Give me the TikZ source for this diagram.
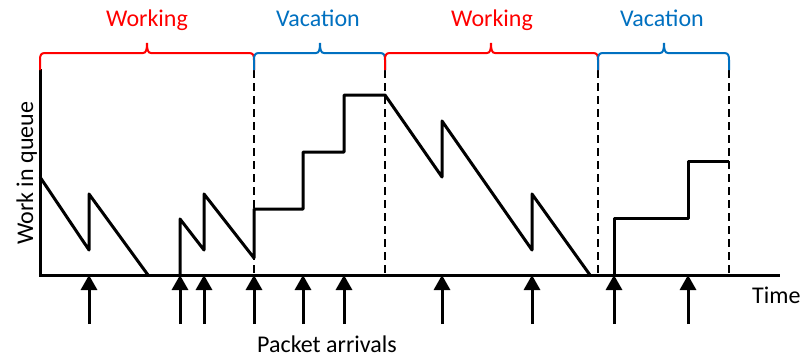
\documentclass[tikz,border=0pt]{standalone}
\usepackage{fontspec}
\setmainfont{Carlito}
\usetikzlibrary{arrows.meta}
\definecolor{workred}{RGB}{255,0,0}
\definecolor{vacblue}{RGB}{0,112,192}
\tikzset{
  axis/.style={line width=3pt, line cap=rect},
  queue/.style={line width=3pt, line join=round},
  boundary/.style={line width=2.2pt, dash pattern=on 8pt off 5pt},
  arrival/.style={line width=3pt, -{Triangle[width=16pt,length=15pt]}},
  brace/.style={line width=2pt},
  label/.style={font=\fontsize{24pt}{28pt}\selectfont, inner sep=0pt},
}
\newcommand{\periodbrace}[4]{% colour, left x, right x, middle x
  \draw[brace,#1] (#2,70) -- (#2,60) .. controls (#2,55) and (#2+1,53) .. (#2+5,53)
    -- (#4-4,53) .. controls (#4-1,53) and (#4,50) .. (#4,43)
    .. controls (#4,50) and (#4+1,53) .. (#4+4,53)
    -- (#3-5,53) .. controls (#3-1,53) and (#3,55) .. (#3,60) -- (#3,70);
}
\begin{document}
\begin{tikzpicture}[x=1pt,y=-1pt]
\useasboundingbox (0,0) rectangle (804,360);

% axes
\coordinate (ytop) at (40,70);
\coordinate (origin) at (40,275);
\coordinate (xend) at (778,275);
\draw[axis] (ytop) -- (origin) -- (xend);

% period boundaries
\foreach \x/\n in {254/b1,385/b2,598/b3,729/b4}{
  \coordinate (\n top) at (\x,70);
  \coordinate (\n bot) at (\x,275);
  \draw[boundary] (\n top) -- (\n bot);
}

% period braces
\periodbrace{workred}{40}{254}{147}
\periodbrace{vacblue}{254}{385}{320}
\periodbrace{workred}{385}{598}{491}
\periodbrace{vacblue}{598}{729}{664}

% period labels
\node[label, text=workred, anchor=base] (w1) at (147,26) {Working};
\node[label, text=vacblue, anchor=base] (v1) at (318,26) {Vacation};
\node[label, text=workred, anchor=base] (w2) at (492,26) {Working};
\node[label, text=vacblue, anchor=base] (v2) at (662,26) {Vacation};

% work in queue
\draw[queue] (40,177) -- (89,250) -- (89,194) -- (148,275);
\draw[queue] (180,275) -- (180,219) -- (204,250) -- (204,194) -- (254,258)
  -- (254,209) -- (303,209) -- (303,152) -- (344,152) -- (344,95) -- (385,95)
  -- (442,177) -- (442,121) -- (532,250) -- (532,194) -- (590,275);
\draw[queue] (614,275) -- (614,218) -- (688,218) -- (688,161) -- (729,161);

% packet arrivals
\foreach \x [count=\i] in {89,180,204,254,303,344,442,532,614,688}{
  \coordinate (a\i) at (\x,324);
  \coordinate (t\i) at (\x,275);
  \draw[arrival] (a\i) -- (t\i);
}

% axis labels
\node[label, anchor=base west, rotate=90] (ylab) at (33,245) {Work in queue};
\node[label, anchor=base west] (xlab) at (752,303) {Time};
\node[label, anchor=base west] (alab) at (257,352) {Packet arrivals};
\end{tikzpicture}
\end{document}
